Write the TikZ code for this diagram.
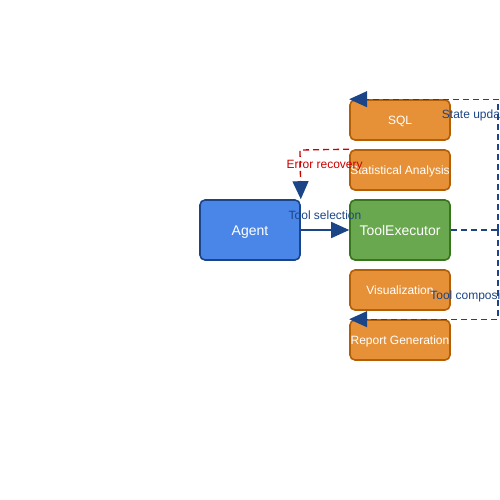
\documentclass[tikz,border=0pt]{standalone}
\usepackage{fontspec}
\setmainfont{Liberation Sans}
\usetikzlibrary{arrows.meta,positioning}
\definecolor{agentblue}{HTML}{4A86E8}
\definecolor{darkblue}{HTML}{1C4587}
\definecolor{toolgreen}{HTML}{6AA84F}
\definecolor{darkgreen}{HTML}{38761D}
\definecolor{tooloran}{HTML}{E69138}
\definecolor{darkoran}{HTML}{B45F06}
\definecolor{errred}{HTML}{CC0000}
\tikzset{
    mainbox/.style={draw,line width=1.6pt,rounded corners=5pt,minimum width=100pt,minimum height=60pt,inner sep=0pt,text=white,text height=10pt,text depth=0pt,font=\fontsize{14}{16}\selectfont},
    toolbox/.style={draw=darkoran,fill=tooloran,line width=1.6pt,rounded corners=5pt,minimum width=100pt,minimum height=40pt,inner sep=0pt,text=white,text height=8.6pt,text depth=0pt,font=\fontsize{12}{14}\selectfont},
    flowlabel/.style={font=\fontsize{12}{14}\selectfont,inner sep=0pt,text height=8.6pt,text depth=0pt},
    bigtip/.style={-{Triangle[length=18pt,width=16pt,color=darkblue]}},
    flowdash/.style={line width=1.3pt,dash pattern=on 6pt off 4pt}
}
\begin{document}
\begin{tikzpicture}[x=1pt,y=-1pt]
    \useasboundingbox (0,0) rectangle (500,500);
    \clip (0,0) rectangle (500,500);
    % agent and executor
    \node[mainbox,draw=darkblue,fill=agentblue] (agent) at (250,230) {Agent};
    \node[mainbox,draw=darkgreen,fill=toolgreen] (executor) at (400,230) {ToolExecutor};
    % tools
    \node[toolbox] (sql) at (400,120) {SQL};
    \node[toolbox] (stats) at (400,170) {Statistical Analysis};
    \node[toolbox] (viz) at (400,290) {Visualization};
    \node[toolbox] (report) at (400,340) {Report Generation};
    \coordinate (bend) at (498,230);
    \coordinate (errcorner) at (300,150);
    % connectors
    \draw[bigtip,darkblue,line width=1.6pt] (agent) -- (executor)
        node[flowlabel,midway,yshift=15pt] {Tool selection};
    \draw[bigtip,errred,flowdash] (stats.north west) -- (errcorner)
        node[flowlabel,midway,yshift=-15pt] {Error recovery} -- (agent.north east);
    \draw[darkblue,flowdash] (executor) -- (bend);
    \draw[bigtip,darkblue,flowdash] (bend) |- (sql.north west)
        node[flowlabel,pos=0.5,xshift=-22pt,yshift=-15pt] {State update};
    \draw[bigtip,darkblue,flowdash] (bend) |- (report.north west)
        node[flowlabel,pos=0.5,xshift=-23pt,yshift=24pt] {Tool composition};
\end{tikzpicture}
\end{document}
